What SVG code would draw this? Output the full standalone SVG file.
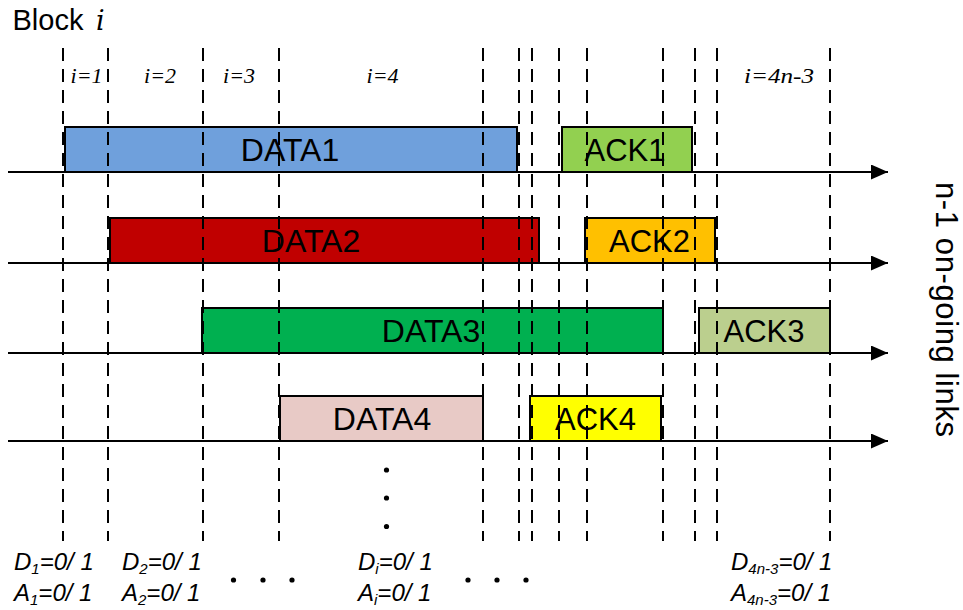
<svg xmlns="http://www.w3.org/2000/svg" width="963" height="610" viewBox="0 0 963 610">
<style>
.box{stroke:#000;stroke-width:2}
.lbl{font-family:"Liberation Sans",Arial,sans-serif;font-size:32px;fill:#000;text-anchor:middle}
.ack{font-size:31px}
.ilbl{font-family:"Liberation Serif","DejaVu Serif",serif;font-style:italic;font-size:22px;fill:#000;text-anchor:middle}
.bot{font-family:"Liberation Sans",Arial,sans-serif;font-style:italic;font-size:24px;fill:#000}
.sub{font-size:15px}
.dash{stroke:#000;stroke-width:2;stroke-dasharray:13 8;fill:none}
.axis{stroke:#000;stroke-width:2;fill:none;marker-end:url(#arr)}
</style>
<defs>
<marker id="arr" markerUnits="userSpaceOnUse" markerWidth="18" markerHeight="16" refX="17" refY="7.5" orient="auto">
<path d="M0,0 L17,7.5 L0,15 Z" fill="#000"/>
</marker>
</defs>
<rect width="963" height="610" fill="#fff"/>
<g id="title">
<text x="12.5" y="30" font-family="'Liberation Sans',Arial,sans-serif" font-size="29">Block</text>
<text x="96" y="30" font-family="'DejaVu Serif','Liberation Serif',serif" font-style="italic" font-size="27">i</text>
</g>
<g id="block-labels">
<text class="ilbl" x="86.5" y="83">i=1</text>
<text class="ilbl" x="160" y="83">i=2</text>
<text class="ilbl" x="239" y="83">i=3</text>
<text class="ilbl" x="382.5" y="83">i=4</text>
<text class="ilbl" x="779" y="83" textLength="70" lengthAdjust="spacingAndGlyphs">i=4n-3</text>
</g>
<g id="data1"><rect class="box" x="65" y="127" width="452" height="45" fill="#6FA0DC"/><text class="lbl" x="290" y="161">DATA1</text></g>
<g id="ack1"><rect class="box" x="562" y="127" width="130" height="45" fill="#92D050"/><text class="lbl ack" x="625" y="161">ACK1</text></g>
<g id="data2"><rect class="box" x="110" y="218" width="429" height="45" fill="#C00000"/><text class="lbl" x="311" y="252">DATA2</text></g>
<g id="ack2"><rect class="box" x="585" y="218" width="130" height="45" fill="#FFC000"/><text class="lbl ack" x="649.5" y="252">ACK2</text></g>
<g id="data3"><rect class="box" x="202" y="308" width="461" height="45" fill="#00B050"/><text class="lbl" x="431" y="342">DATA3</text></g>
<g id="ack3"><rect class="box" x="699" y="308" width="131" height="45" fill="#BBCF8E"/><text class="lbl ack" x="764" y="342">ACK3</text></g>
<g id="data4"><rect class="box" x="280" y="396" width="203" height="45" fill="#E8CAC6"/><text class="lbl" x="382" y="430">DATA4</text></g>
<g id="ack4"><rect class="box" x="530" y="396" width="131" height="45" fill="#FFFF00"/><text class="lbl ack" x="595.5" y="430">ACK4</text></g>
<g id="grid">
<line class="dash" x1="63" y1="48" x2="63" y2="541"/>
<line class="dash" x1="108" y1="48" x2="108" y2="541"/>
<line class="dash" x1="203" y1="48" x2="203" y2="541"/>
<line class="dash" x1="279" y1="48" x2="279" y2="541"/>
<line class="dash" x1="483" y1="48" x2="483" y2="541"/>
<line class="dash" x1="519" y1="48" x2="519" y2="541"/>
<line class="dash" x1="532" y1="48" x2="532" y2="541"/>
<line class="dash" x1="559" y1="48" x2="559" y2="541"/>
<line class="dash" x1="587" y1="48" x2="587" y2="541"/>
<line class="dash" x1="663" y1="48" x2="663" y2="541"/>
<line class="dash" x1="695" y1="48" x2="695" y2="541"/>
<line class="dash" x1="717" y1="48" x2="717" y2="541"/>
<line class="dash" x1="830" y1="48" x2="830" y2="541"/>
</g>
<g id="connectors">
<line class="axis" x1="8" y1="172" x2="888" y2="172"/>
<line class="axis" x1="8" y1="263" x2="888" y2="263"/>
<line class="axis" x1="8" y1="353" x2="888" y2="353"/>
<line class="axis" x1="8" y1="441" x2="888" y2="441"/>
</g>
<g id="side-label">
<text transform="translate(936,309.5) rotate(90)" font-family="'Liberation Sans',Arial,sans-serif" font-size="31" text-anchor="middle" textLength="255">n-1 on-going links</text>
</g>
<g id="dots" fill="#000">
<circle cx="386.5" cy="470" r="2.6"/>
<circle cx="386.5" cy="498" r="2.6"/>
<circle cx="386.5" cy="526.5" r="2.6"/>
<circle cx="233.5" cy="580" r="2.6"/>
<circle cx="263" cy="580" r="2.6"/>
<circle cx="292" cy="580" r="2.6"/>
<circle cx="468" cy="580" r="2.6"/>
<circle cx="497" cy="580" r="2.6"/>
<circle cx="526" cy="580" r="2.6"/>
</g>
<g id="bottom-labels">
<text class="bot" x="14" y="570">D<tspan class="sub" dy="4">1</tspan><tspan dy="-4">=0/ 1</tspan></text>
<text class="bot" x="14" y="601">A<tspan class="sub" dy="4">1</tspan><tspan dy="-4">=0/ 1</tspan></text>
<text class="bot" x="122" y="570">D<tspan class="sub" dy="4">2</tspan><tspan dy="-4">=0/ 1</tspan></text>
<text class="bot" x="122" y="601">A<tspan class="sub" dy="4">2</tspan><tspan dy="-4">=0/ 1</tspan></text>
<text class="bot" x="358" y="570">D<tspan class="sub" dy="4">i</tspan><tspan dy="-4">=0/ 1</tspan></text>
<text class="bot" x="358" y="601">A<tspan class="sub" dy="4">i</tspan><tspan dy="-4">=0/ 1</tspan></text>
<text class="bot" x="731" y="570">D<tspan class="sub" dy="4">4n-3</tspan><tspan dy="-4">=0/ 1</tspan></text>
<text class="bot" x="731" y="601">A<tspan class="sub" dy="4">4n-3</tspan><tspan dy="-4">=0/ 1</tspan></text>
</g>
</svg>
